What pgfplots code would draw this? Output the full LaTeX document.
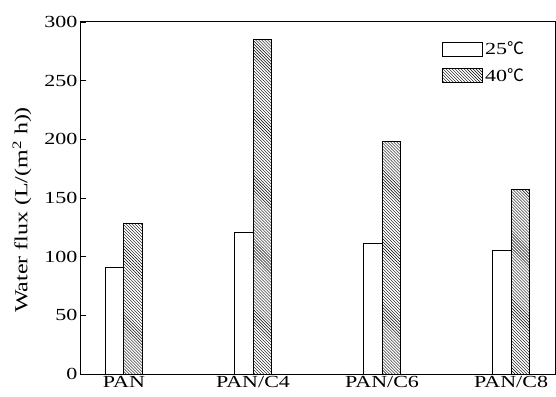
\documentclass[border=0pt]{standalone}
\usepackage{pgfplots}
\pgfplotsset{compat=1.18}
\usetikzlibrary{patterns}
\usepackage{fontspec}
\setmainfont{Liberation Serif}[FakeStretch=1.3]
\newfontfamily\cjk{Noto Sans CJK SC}
\pgfplotsset{/pgfplots/ybar legend/.style={/pgfplots/legend image code/.code={\draw[##1,line width=1bp] (0bp,-7bp) rectangle (40bp,7bp);}}}
\begin{document}
\begin{tikzpicture}
\begin{axis}[
  scale only axis, width=474bp, height=352bp,
  ymin=0, ymax=300, xmin=-0.333, xmax=3.34,
  ybar=0pt, bar width=18.5bp,
  xtick={0,1,2,3}, xticklabels={PAN,PAN/C4,PAN/C6,PAN/C8},
  ytick={0,50,...,300},
  ytick pos=left, tick align=inside,
  major tick length=5bp,
  x tick style={draw=none},
  y tick style={black, line width=0.8bp},
  axis line style={line width=1bp},
  font=\fontsize{17}{20}\selectfont,
  tick label style={font=\fontsize{17}{20}\selectfont},
  xticklabel style={yshift=1bp},
  /pgf/number format/assume math mode=true,
  ylabel={Water flux (L/(m\textsuperscript{2} h))},
  ylabel style={at={(rel axis cs:-0.1245,0.466)}, anchor=center, font=\fontsize{18.5}{22}\selectfont},
  legend style={draw=none, fill=none, at={(rel axis cs:0.755,0.955)}, anchor=north west,
    row sep=8bp, font=\fontsize{17}{20}\selectfont,
    /tikz/every even column/.append style={column sep=4bp}},
  legend cell align=left,
]
\addplot[draw=black, fill=white, line width=1bp] coordinates {(0,91) (1,121) (2,111) (3,105)};
\addplot[draw=black, pattern=north west lines, line width=1bp] coordinates {(0,128) (1,285) (2,198) (3,157)};
\legend{25{\cjk ℃},40{\cjk ℃}}
\end{axis}
\pgfresetboundingbox
\path ([shift={(-81bp,-23bp)}]current axis.south west) rectangle ([shift={(1bp,22bp)}]current axis.north east);
\end{tikzpicture}
\end{document}
